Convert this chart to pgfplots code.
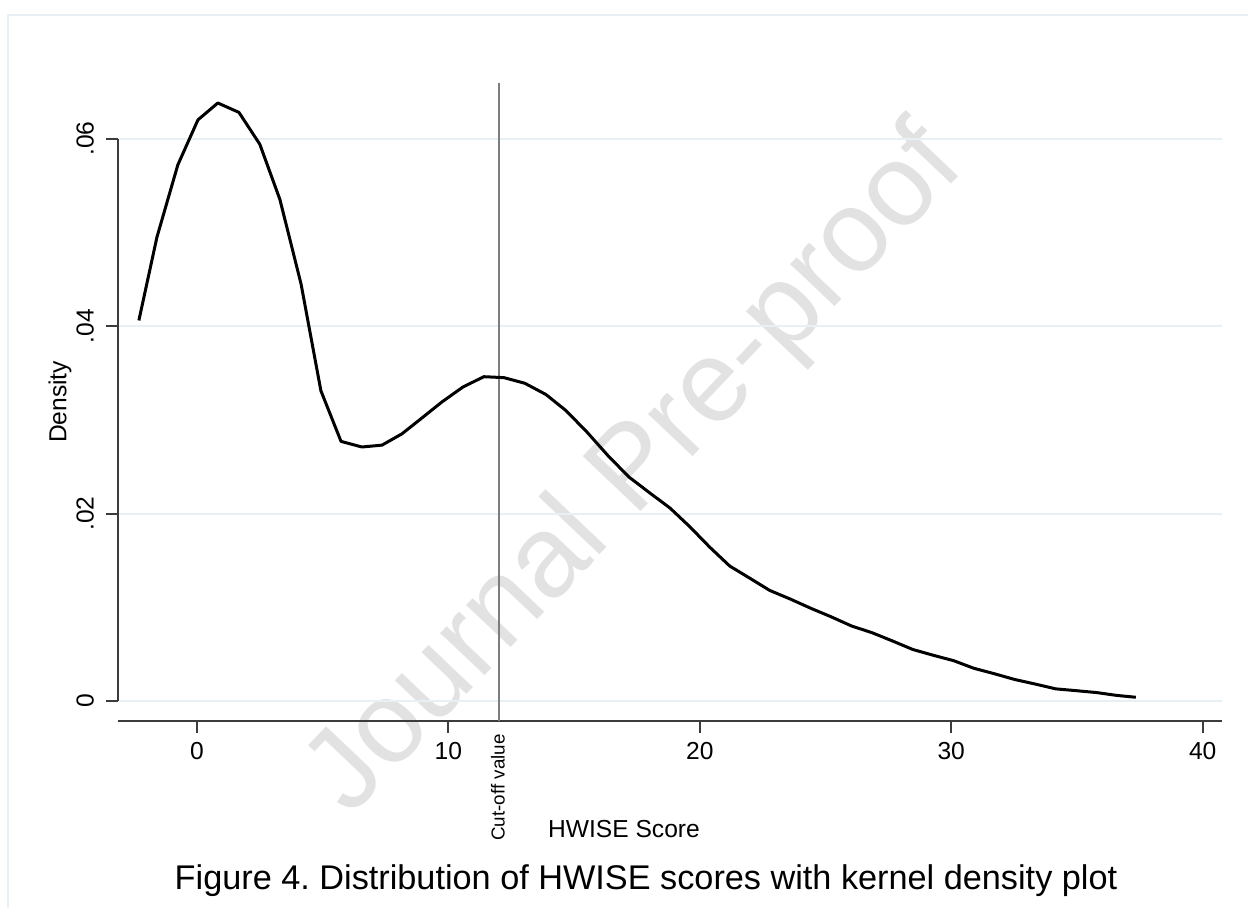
\documentclass[border=0pt]{standalone}
\usepackage{pgfplots}
\pgfplotsset{compat=1.18}
\usepackage{fontspec}
\setmainfont{Liberation Sans}

\definecolor{gridc}{RGB}{232,240,243}
\definecolor{axc}{RGB}{60,60,60}
\definecolor{cutc}{RGB}{125,125,125}
\definecolor{wmc}{RGB}{226,226,226}

% kernel density estimate
\pgfplotstableread{
x      y
-2.31  0.0406
-1.59  0.0495
-0.76  0.0572
0.04   0.0620
0.83   0.0638
1.67   0.0628
2.50   0.0594
3.30   0.0535
4.14   0.0445
4.93   0.0331
5.73   0.0277
6.56   0.0271
7.36   0.0273
8.15   0.0285
8.95   0.0302
9.74   0.0319
10.58  0.0335
11.41  0.0346
12.21  0.0345
13.04  0.0339
13.88  0.0327
14.67  0.0310
15.51  0.0287
16.34  0.0262
17.18  0.0239
18.01  0.0222
18.81  0.0206
19.60  0.0186
20.40  0.0164
21.19  0.0144
21.99  0.0131
22.78  0.0118
23.58  0.0109
24.41  0.0099
25.21  0.0090
26.04  0.0080
26.84  0.0073
27.67  0.0064
28.47  0.0055
29.26  0.0049
30.10  0.0043
30.89  0.0035
31.73  0.0029
32.52  0.0023
33.36  0.0018
34.15  0.0013
34.99  0.0011
35.79  0.0009
36.58  0.0006
37.34  0.0004
}\kdens

\begin{document}
\frenchspacing
\begin{tikzpicture}
% pixel-like frame so the page matches the original proportions
\begin{scope}[x=0.02cm,y=-0.02cm,shift={(-118,-721)}]
  \useasboundingbox (0,0) rectangle (1248,908);
  \draw[gridc, line width=0.04cm] (8,908) -- (8,15) -- (1248,15);
  \node[wmc, rotate=46.5, font=\fontsize{66}{70}\selectfont] at (637,472) {Journal Pre-proof};
\end{scope}

\begin{axis}[
    at={(0,0)}, anchor=south west,
    scale only axis, width=22.08cm, height=12.76cm,
    xmin=-3.14, xmax=40.76, ymin=-0.00213, ymax=0.06592,
    axis lines*=left,
    x axis line style={axc, line width=0.04cm},
    y axis line style={draw=none},
    xtick={0,10,20,30,40},
    ytick={0,0.02,0.04,0.06},
    yticklabels={0,.02,.04,.06},
    scaled y ticks=false,
    tick align=outside,
    major tick length=0.24cm,
    tick style={axc, line width=0.04cm},
    ymajorgrids,
    grid style={gridc, line width=0.04cm},
    /pgf/number format/assume math mode=true,
    xticklabel shift=0.06cm,
    yticklabel shift=0.12cm,
    xticklabel style={font=\fontsize{14}{16}\selectfont},
    yticklabel style={rotate=90, anchor=south, font=\fontsize{14}{16}\selectfont},
    clip=false,
]
\draw[axc, line width=0.04cm] (axis cs:-3.14,0) -- (axis cs:-3.14,0.06);
\addplot[cutc, line width=0.04cm] coordinates {(12,-0.00213) (12,0.06592)};
\addplot[black, line width=0.06cm, line join=round] table[x=x,y=y] {\kdens};
\end{axis}

\begin{scope}[x=0.02cm,y=-0.02cm,shift={(-118,-721)}]
  \node[font=\fontsize{14}{16}\selectfont] at (624,829) {HWISE Score};
  \node[rotate=90, font=\fontsize{14}{16}\selectfont] at (60,402) {Density};
  \node[rotate=90, anchor=east, inner sep=0pt, font=\fontsize{10.7}{12}\selectfont] at (498,734) {Cut-off value};
  \node[font=\fontsize{19.5}{22}\selectfont] at (646,881) {Figure 4. Distribution of HWISE scores with kernel density plot};
\end{scope}
\end{tikzpicture}
\end{document}
